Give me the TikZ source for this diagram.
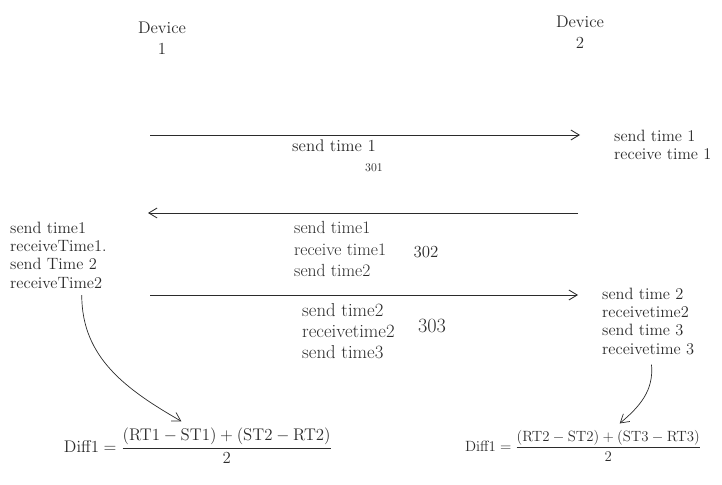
\documentclass[tikz,border=0pt]{standalone}
\usepackage{amsmath}
\usetikzlibrary{arrows.meta, positioning}
\definecolor{ink}{HTML}{2B2B2B}

\begin{document}
\begin{tikzpicture}[
  x=0.03cm, y=-0.03cm,
  >={Straight Barb[length=2.5mm, width=3mm]},
  every node/.style={text=ink, inner sep=0pt},
  devlabel/.style={font=\Large, align=center},
  note/.style={font=\fontsize{14}{15.5}\selectfont, align=left, anchor=north west},
  msgid/.style={font=\Large},
  msg/.style={ink, line width=0.7pt, ->},
  curve/.style={ink, line width=0.6pt, ->},
]

% Page
\useasboundingbox (0,0) rectangle (722,485);

% ============ Devices ============
\node[devlabel] (dev1) at (162,38) {Device\\1};
\node[devlabel] (dev2) at (580,32) {Device\\2};

% ============ Messages ============
\coordinate (m1s) at (150,135);
\coordinate (m1e) at (580,135);
\coordinate (m2s) at (578,213);
\coordinate (m2e) at (148,213);
\coordinate (m3s) at (150,295);
\coordinate (m3e) at (578,295);

\draw[msg] (m1s) -- (m1e);
\draw[msg] (m2s) -- (m2e);
\draw[msg] (m3s) -- (m3e);

% Message 301
\node[note, font=\Large] (pay1) at (292,140) {send time 1};
\node[msgid, font=\normalsize] (id1) at (374,168) {301};

% Message 302
\node[note, font=\fontsize{15}{18.5}\selectfont] (pay2) at (294,221) {send time1\\receive time1\\send time2};
\node[msgid] (id2) at (426,252) {302};

% Message 303
\node[note, font=\fontsize{16}{18}\selectfont] (pay3) at (302,303) {send time2\\receivetime2\\send time3};
\node[msgid, font=\LARGE] (id3) at (432,326) {303};

% ============ Stored times ============
\node[note] (dev2a) at (614,130) {send time 1\\receive time 1};
\node[note] (dev1a) at (10,222) {send time1\\receiveTime1.\\send Time 2\\receiveTime2};
\node[note] (dev2b) at (602,288) {send time 2\\receivetime2\\send time 3\\receivetime 3};

% ============ Offsets ============
\node[font=\Large] (eq1) at (198,446)
  {$\mathrm{Diff1}= \dfrac{(\mathrm{RT1}-\mathrm{ST1})+(\mathrm{ST2}-\mathrm{RT2})}{2}$};
\node[font=\Large, scale=0.88, transform shape] (eq2) at (583,446)
  {$\mathrm{Diff1}= \dfrac{(\mathrm{RT2}-\mathrm{ST2})+(\mathrm{ST3}-\mathrm{RT3})}{2}$};

\draw[curve] ([xshift=7mm, yshift=-2mm]dev1a.south) to[out=-90, in=150] ([xshift=-5mm, yshift=2mm]eq1.north);
\draw[curve] ([xshift=1mm, yshift=-3mm]dev2b.south) to[out=-85, in=40] ([xshift=11mm, yshift=2mm]eq2.north);

\end{tikzpicture}
\end{document}
